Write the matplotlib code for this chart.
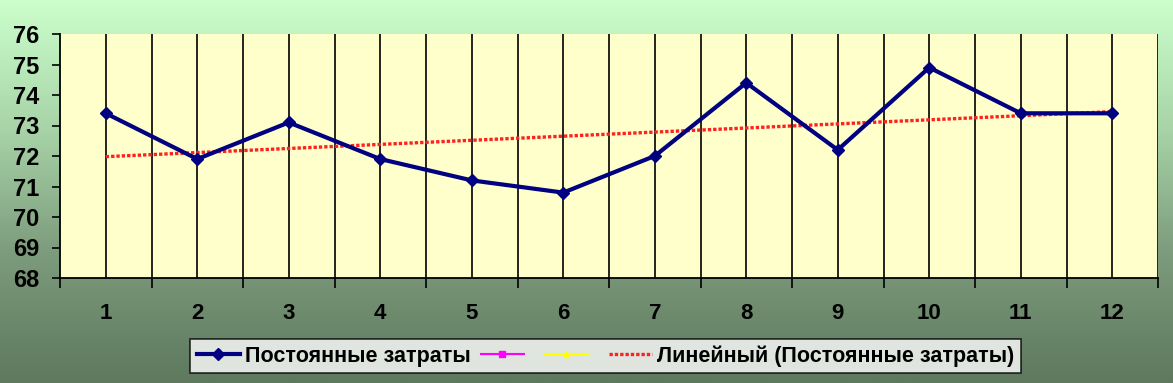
import numpy as np
import matplotlib.pyplot as plt
from matplotlib.colors import LinearSegmentedColormap

# data
months = [1, 2, 3, 4, 5, 6, 7, 8, 9, 10, 11, 12]
fixed_costs = [73.4, 71.9, 73.1, 71.9, 71.2, 70.8, 72.0, 74.4, 72.2, 74.9, 73.4, 73.4]
series2 = []
series3 = []
labels = ["Постоянные затраты", " ", " ", "Линейный (Постоянные затраты)"]

plt.rcParams['font.family'] = ['Liberation Sans', 'DejaVu Sans']
plt.rcParams['font.weight'] = 'bold'

fig = plt.figure(figsize=(11.73, 3.83), dpi=100)

# gradient background
bg = fig.add_axes([0, 0, 1, 1], zorder=-10)
cmap = LinearSegmentedColormap.from_list('g', ['#CCFFCC', '#A8D4A8', '#7C9A7C', '#5E795E'])
grad = np.linspace(0, 1, 256).reshape(-1, 1)
bg.imshow(grad, aspect='auto', cmap=cmap, extent=[0, 1, 0, 1])
bg.axis('off')

ax = fig.add_axes([60 / 1173, 105 / 383, 1098 / 1173, 244 / 383])
ax.set_facecolor('#FFFFCC')

x = np.array(months)
ax.plot(x, fixed_costs, color='#000080', lw=3, marker='D', ms=6, zorder=5,
        label=labels[0])
ax.plot(series2, series2, color='magenta', marker='s', ms=5, label=labels[1])
ax.plot(series3, series3, color='yellow', marker='^', ms=5, label=labels[2])

k, b = np.polyfit(x, fixed_costs, 1)
ax.plot(x, k * x + b, color='#FF2020', lw=2.4, ls=(0, (1, 0.6)), zorder=4,
        label=labels[3])

ax.set_xlim(0.5, 12.5)
ax.set_ylim(68, 76)
ax.set_yticks(range(68, 77))

# gridlines at every half step
for g in np.arange(1, 12.51, 0.5):
    ax.axvline(g, color='black', lw=1.2, zorder=1)

ax.set_xticks(np.arange(0.5, 12.6, 1))
ax.set_xticklabels([])
ax.set_xticks(x, minor=True)
ax.set_xticklabels([str(m) for m in months], minor=True)
ax.tick_params(axis='x', which='major', length=7, width=1.2, direction='out')
ax.tick_params(axis='x', which='minor', length=0, pad=18, labelsize=16)
ax.tick_params(axis='y', length=6, width=1.2, pad=9, labelsize=17)

for s in ['top', 'right']:
    ax.spines[s].set_visible(False)
ax.spines['left'].set_linewidth(1.3)
ax.spines['bottom'].set_linewidth(1.3)

leg = ax.legend(loc='upper center', bbox_to_anchor=(0.497, -0.25), ncol=4,
                frameon=True, fancybox=False, edgecolor='black',
                prop={'size': 15.5, 'weight': 'bold'}, handlelength=2.0,
                columnspacing=0.45, handletextpad=0.25, borderpad=0.3,
                borderaxespad=0)
leg.get_frame().set_linewidth(1.2)

fig.savefig('out.png', dpi=100)
